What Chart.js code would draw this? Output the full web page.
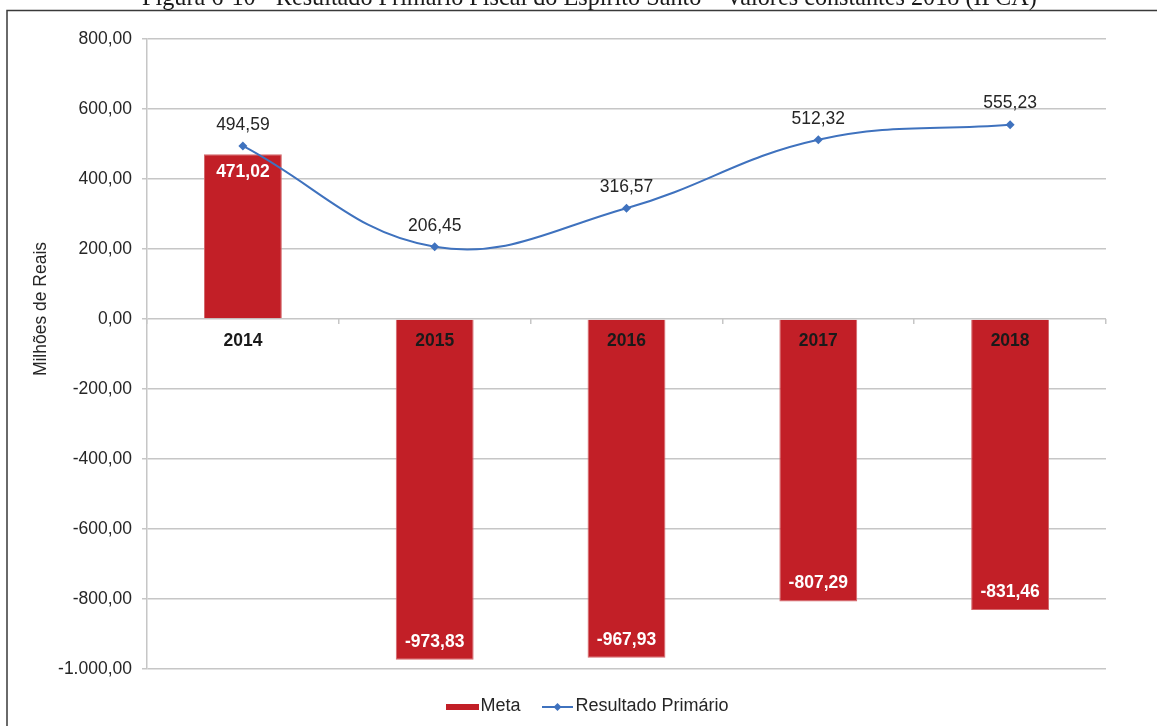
<!DOCTYPE html>
<html lang="pt-BR">
<head>
<meta charset="utf-8">
<title>Resultado Primário Fiscal do Espírito Santo</title>
<script src="https://cdn.jsdelivr.net/npm/chart.js@4.4.1/dist/chart.umd.min.js"></script>
<style>
  html, body { margin: 0; padding: 0; background: #ffffff; }
  canvas { display: block; }
</style>
</head>
<body>
<canvas id="c" width="1157" height="726"></canvas>
<script>
// Chart data
const anos = ['2014', '2015', '2016', '2017', '2018'];
const meta = [471.02, -973.83, -967.93, -807.29, -831.46];
const resultadoPrimario = [494.59, 206.45, 316.57, 512.32, 555.23];
const yMin = -1000;
const yMax = 800;
const yStep = 200;
const tituloFigura = 'Figura 6-10 - Resultado Primário Fiscal do Espírito Santo – Valores constantes 2018 (IPCA)';
const tituloEixoY = 'Milhões de Reais';

const VERMELHO = '#C21F27';
const AZUL = '#3F72BE';
const TEXTO = '#262626';
const GRADE = '#c6c6c6';
const FONTE = '"Liberation Sans", Arial, sans-serif';
const TAM = 17.5;
const TAM_LEGENDA = 18;
const ALTURA_LEGENDA = 57;
const DESLOC_LEGENDA = 38;

// pt-BR number format: 1.000,00
function fmt(v) {
  const partes = Math.abs(v).toFixed(2).split('.');
  const inteiro = partes[0].replace(/\B(?=(\d{3})+(?!\d))/g, '.');
  return (v < 0 ? '-' : '') + inteiro + ',' + partes[1];
}

// Legend swatches: flat red bar, and a line with a diamond marker
function swatchMeta() {
  const c = document.createElement('canvas');
  c.width = 33; c.height = 14;
  const g = c.getContext('2d');
  g.fillStyle = VERMELHO;
  g.fillRect(0, 5, 33, 6);
  return c;
}
function swatchLinha() {
  const c = document.createElement('canvas');
  c.width = 31; c.height = 14;
  const g = c.getContext('2d');
  g.strokeStyle = AZUL;
  g.lineWidth = 2;
  g.beginPath(); g.moveTo(0, 8); g.lineTo(31, 8); g.stroke();
  g.fillStyle = AZUL;
  g.beginPath();
  g.moveTo(15.5, 4); g.lineTo(19.5, 8); g.lineTo(15.5, 12); g.lineTo(11.5, 8);
  g.closePath(); g.fill();
  return c;
}
const swatches = [swatchMeta(), swatchLinha()];

// Page frame, figure caption and vertical axis title
const moldura = {
  id: 'moldura',
  beforeDraw(chart) {
    const ctx = chart.ctx;
    ctx.save();
    ctx.fillStyle = '#ffffff';
    ctx.fillRect(0, 0, chart.width, chart.height);

    ctx.strokeStyle = '#3a3a3a';
    ctx.lineWidth = 1.5;
    ctx.beginPath();
    ctx.moveTo(7, chart.height + 2);
    ctx.lineTo(7, 10.5);
    ctx.lineTo(chart.width + 2, 10.5);
    ctx.stroke();

    ctx.fillStyle = '#1a1a1a';
    ctx.font = '20px "Liberation Serif", "Times New Roman", serif';
    const w = ctx.measureText(tituloFigura).width;
    const escala = 895 / w;
    ctx.font = (20 * escala).toFixed(2) + 'px "Liberation Serif", "Times New Roman", serif';
    ctx.textAlign = 'left';
    ctx.textBaseline = 'alphabetic';
    ctx.fillText(tituloFigura, 142, 4.5);

    ctx.translate(41, 309);
    ctx.rotate(-Math.PI / 2);
    ctx.font = TAM + 'px ' + FONTE;
    ctx.fillStyle = TEXTO;
    ctx.textAlign = 'center';
    ctx.textBaseline = 'middle';
    ctx.fillText(tituloEixoY, 0, 0);
    ctx.restore();
  }
};

// Legend strip: fixed height with room above the items, centred on the figure
const ajusteLegenda = {
  id: 'ajusteLegenda',
  beforeLayout(chart) {
    const lg = chart.legend;
    if (lg && !lg._alturaFixa) {
      const fitOriginal = lg.fit;
      lg.fit = function () {
        fitOriginal.call(this);
        this.height = ALTURA_LEGENDA;
      };
      lg._alturaFixa = true;
    }
  },
  afterLayout(chart) {
    const lg = chart.legend;
    if (lg) {
      lg.left += DESLOC_LEGENDA;
      lg.right += DESLOC_LEGENDA;
    }
  }
};

// Value labels for bars and line points
const rotulos = {
  id: 'rotulos',
  afterDatasetsDraw(chart) {
    const ctx = chart.ctx;
    ctx.save();
    ctx.textAlign = 'center';
    ctx.textBaseline = 'middle';

    const mBar = chart.getDatasetMeta(0);
    ctx.font = 'bold ' + TAM + 'px ' + FONTE;
    ctx.fillStyle = '#ffffff';
    mBar.data.forEach((el, i) => {
      const v = meta[i];
      const y = v >= 0 ? el.y + 18 : el.y - 18;
      ctx.fillText(fmt(v), el.x, y);
    });

    const mLinha = chart.getDatasetMeta(1);
    ctx.font = TAM + 'px ' + FONTE;
    ctx.fillStyle = TEXTO;
    mLinha.data.forEach((el, i) => {
      ctx.fillText(fmt(resultadoPrimario[i]), el.x, el.y - 21);
    });
    ctx.restore();
  }
};

new Chart(document.getElementById('c'), {
  data: {
    labels: anos,
    datasets: [
      {
        type: 'bar',
        label: 'Meta',
        data: meta,
        backgroundColor: VERMELHO,
        borderColor: '#d3676b',
        borderWidth: 1,
        barPercentage: 1,
        categoryPercentage: 0.406,
        order: 2
      },
      {
        type: 'line',
        label: 'Resultado Primário',
        data: resultadoPrimario,
        borderColor: AZUL,
        backgroundColor: AZUL,
        borderWidth: 2,
        tension: 0.4,
        pointStyle: 'rectRot',
        pointRadius: 4.5,
        pointBorderWidth: 0,
        pointBackgroundColor: AZUL,
        fill: false,
        order: 1
      }
    ]
  },
  options: {
    responsive: false,
    animation: false,
    devicePixelRatio: 1,
    layout: { padding: { top: 39, right: 51, left: 0, bottom: 0 } },
    scales: {
      x: {
        type: 'category',
        position: { y: 0 },
        offset: true,
        border: { display: false },
        grid: {
          display: true,
          offset: true,
          drawOnChartArea: false,
          drawTicks: true,
          tickLength: 5,
          color: GRADE,
          lineWidth: 1.5
        },
        ticks: {
          z: 1,
          color: '#1a1a1a',
          font: { family: FONTE, size: TAM, weight: 'bold' },
          padding: 7,
          maxRotation: 0,
          autoSkip: false
        }
      },
      y: {
        min: yMin,
        max: yMax,
        afterFit(scale) { scale.width = 147; },
        border: { display: true, color: GRADE, width: 1.5 },
        grid: {
          color: GRADE,
          lineWidth: 1.5,
          drawTicks: true,
          tickLength: 5
        },
        ticks: {
          stepSize: yStep,
          color: TEXTO,
          font: { family: FONTE, size: TAM },
          padding: 10,
          callback: (v) => fmt(v)
        }
      }
    },
    plugins: {
      title: { display: false },
      tooltip: { enabled: false },
      legend: {
        display: true,
        position: 'bottom',
        labels: {
          usePointStyle: true,
          boxWidth: TAM_LEGENDA,
          padding: 28,
          color: TEXTO,
          font: { family: FONTE, size: TAM_LEGENDA },
          generateLabels(chart) {
            const itens = Chart.defaults.plugins.legend.labels.generateLabels(chart);
            itens.forEach((it) => { it.pointStyle = swatches[it.datasetIndex]; });
            return itens.sort((a, b) => a.datasetIndex - b.datasetIndex);
          }
        }
      }
    }
  },
  plugins: [moldura, ajusteLegenda, rotulos]
});
</script>
</body>
</html>
